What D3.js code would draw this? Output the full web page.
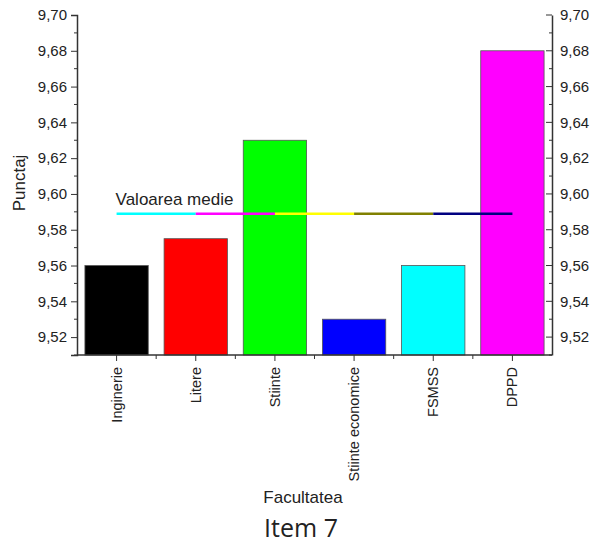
<!DOCTYPE html>
<html><head><meta charset="utf-8">
<script src="https://cdn.jsdelivr.net/npm/d3@7"></script>
<style>body{margin:0;background:#fff}svg{display:block}text{font-family:"Liberation Sans",Arial,sans-serif;fill:#222}</style>
</head><body>
<svg id="c" width="592" height="543"></svg>
<script>
const categories = ["Inginerie","Litere","Stiinte","Stiinte economice","FSMSS","DPPD"];
const values = [9.56, 9.575, 9.63, 9.53, 9.56, 9.68];
const barColors = ["#000000","#ff0000","#00ff00","#0000ff","#00ffff","#ff00ff"];
const meanValue = 9.589;
const meanSegColors = ["#00ffff","#ff00ff","#ffff00","#808000","#000080"];
const yTicks = [9.52,9.54,9.56,9.58,9.60,9.62,9.64,9.66,9.68,9.70];

const svg = d3.select("#c");
const L = 77, R = 552, T = 15, B = 355;
const x = d3.scaleBand().domain(categories).range([L, R]).paddingInner(0.2).paddingOuter(0.1);
const y = d3.scaleLinear().domain([9.51, 9.70]).range([B, T]);
const fmt = d => d3.format(".2f")(d).replace(".", ",");
const minor = d3.range(9.51, 9.7001, 0.01).filter(v => !yTicks.some(t => Math.abs(t - v) < 1e-6));

// bars
svg.append("g").selectAll("rect").data(categories).join("rect")
  .attr("x", d => x(d)).attr("width", x.bandwidth())
  .attr("y", (d,i) => y(values[i])).attr("height", (d,i) => B - y(values[i]))
  .attr("fill", (d,i) => barColors[i]).attr("stroke", "#555").attr("stroke-width", 0.8);

// mean line segments between category centers
const centers = categories.map(c => x(c) + x.bandwidth()/2);
svg.append("g").selectAll("line").data(meanSegColors).join("line")
  .attr("x1", (d,i) => centers[i]).attr("x2", (d,i) => centers[i+1])
  .attr("y1", y(meanValue)).attr("y2", y(meanValue))
  .attr("stroke", d => d).attr("stroke-width", 2.5);
svg.append("text").attr("x", centers[0] - 1).attr("y", y(meanValue) - 9)
  .attr("font-size", 17).text("Valoarea medie");

// left axis
const gl = svg.append("g").attr("transform", `translate(${L},0)`)
  .call(d3.axisLeft(y).tickValues(yTicks).tickFormat(fmt).tickSize(6).tickPadding(4));
gl.append("g").selectAll("line").data(minor).join("line")
  .attr("x1", 0).attr("x2", -3).attr("y1", d => y(d)).attr("y2", d => y(d)).attr("stroke", "#333");
// right axis (ticks inward)
const gr = svg.append("g").attr("transform", `translate(${R},0)`)
  .call(d3.axisRight(y).tickValues(yTicks).tickFormat(fmt).tickSize(0).tickPadding(8));
gr.append("g").selectAll("line").data(yTicks).join("line")
  .attr("x1", 0).attr("x2", -6).attr("y1", d => y(d)).attr("y2", d => y(d)).attr("stroke", "#333");
gr.append("g").selectAll("line").data(minor).join("line")
  .attr("x1", 0).attr("x2", -3).attr("y1", d => y(d)).attr("y2", d => y(d)).attr("stroke", "#333");
// bottom axis
const gb = svg.append("g").attr("transform", `translate(0,${B})`)
  .call(d3.axisBottom(x).tickSize(6).tickPadding(8));
gb.select(".domain").attr("d", `M${L},0H${R}`);
const bounds = categories.slice(1).map(c => x(c) - x.step()*x.paddingInner()/2);
gb.append("g").selectAll("line").data(bounds).join("line")
  .attr("x1", d => d).attr("x2", d => d).attr("y1", 0).attr("y2", 4).attr("stroke", "#333");
gb.selectAll(".tick text").attr("transform", "rotate(-90)")
  .attr("text-anchor", "end").attr("x", -12).attr("y", 0).attr("dy", "0.35em");

[gl, gr, gb].forEach(g => {
  g.selectAll(".domain").attr("stroke", "#333").attr("stroke-width", 1.5);
  g.selectAll(".tick line").attr("stroke", "#333");
  g.selectAll(".tick text").attr("font-size", 15).attr("fill", "#333")
    .style("font-family", "'Liberation Sans', Arial, sans-serif");
});
gb.selectAll(".tick text").attr("font-size", 14.5);

svg.append("text").attr("transform", "translate(25,183) rotate(-90)")
  .attr("text-anchor", "middle").attr("font-size", 17).text("Punctaj");
svg.append("text").attr("x", 303).attr("y", 503)
  .attr("text-anchor", "middle").attr("font-size", 17).text("Facultatea");
svg.append("text").attr("x", 301).attr("y", 537)
  .attr("text-anchor", "middle").attr("font-size", 25)
  .style("font-family", "'Open Sans', 'Noto Sans', sans-serif").text("Item 7");
</script>
</body></html>
